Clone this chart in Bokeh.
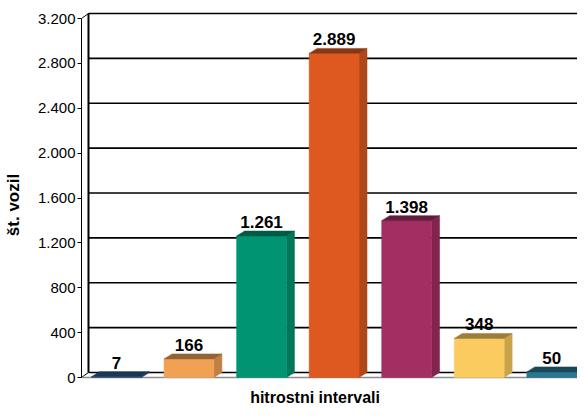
import numpy as np
from bokeh.plotting import figure
from bokeh.models import FixedTicker, Range1d, Label, ColumnDataSource
from bokeh.core.properties import value
from bokeh.embed import file_html
from bokeh.resources import INLINE

# ---- data ----
intervals = ["1", "2", "3", "4", "5", "6", "7"]          # speed intervals (no labels shown on chart)
counts = [7, 166, 1261, 2889, 1398, 348, 50]
count_labels = ["7", "166", "1.261", "2.889", "1.398", "348", "50"]
y_ticks = [0, 400, 800, 1200, 1600, 2000, 2400, 2800, 3200]
y_tick_labels = ["0", "400", "800", "1.200", "1.600", "2.000", "2.400", "2.800", "3.200"]
front_colors = ["#2E5A8A", "#F0A154", "#009472", "#DD5920", "#A32E62", "#FCCB5F", "#2A7590"]
y_title = "št. vozil"
x_title = "hitrostni intervali"

# ---- layout constants (pixels) ----
W, H = 577, 409
LEFT = 80
FRAME_W = W - LEFT
FRAME_H = H
Y0_PX = 377          # front zero line from frame top
YMAX_PX = 18         # front 3200 line from frame top
K = (Y0_PX - YMAX_PX) / 3200.0   # px per unit
SLOT = 72.7
FIRST_C = 35.0

x_start = -FIRST_C / SLOT
x_end = x_start + FRAME_W / SLOT
y_start = -(FRAME_H - Y0_PX) / K
y_end = y_ticks[-1] + YMAX_PX / K

bar_hw = 25.0 / SLOT
bar_dx = 8.0 / SLOT
dy = 5.0 / K
wall_dx = 7.0 / SLOT


def shade(hexcol, f):
    h = hexcol.lstrip("#")
    r, g, b = (int(h[i:i + 2], 16) for i in (0, 2, 4))
    return "#%02x%02x%02x" % (int(r * f), int(g * f), int(b * f))


p = figure(width=W, height=H, output_backend="svg", toolbar_location=None,
           x_range=Range1d(x_start, x_end), y_range=Range1d(y_start, y_end),
           x_axis_location=None, min_border_left=LEFT, min_border_right=0,
           min_border_top=0, min_border_bottom=0)
p.outline_line_color = None
p.grid.visible = False
p.background_fill_color = "white"

# ---- y axis ----
ax = p.yaxis[0]
ax.ticker = FixedTicker(ticks=y_ticks)
ax.major_label_overrides = {t: l for t, l in zip(y_ticks, y_tick_labels)}
ax.bounds = (y_ticks[0], y_ticks[-1])
ax.minor_tick_line_color = None
ax.major_tick_in = 0
ax.major_tick_out = 4
ax.major_label_standoff = 2
ax.axis_line_color = "black"
ax.major_tick_line_color = "black"
ax.major_label_text_font = "Liberation Sans"
ax.major_label_text_font_size = "15px"
ax.major_label_text_color = "black"
ax.axis_label = y_title
ax.axis_label_text_font = "Liberation Sans"
ax.axis_label_text_font_style = "bold"
ax.axis_label_text_font_size = "17px"
ax.axis_label_standoff = 12
ax.axis_label_text_color = "black"

# ---- back wall grid lines ----
gx0 = [x_start + wall_dx] * len(y_ticks)
gx1 = [x_end] * len(y_ticks)
gy = [t + dy for t in y_ticks]
p.segment(x0=gx0, y0=gy, x1=gx1, y1=gy, line_color="black", line_width=1.7)
# back wall vertical line
p.segment(x0=[x_start + wall_dx], y0=[dy], x1=[x_start + wall_dx], y1=[y_ticks[-1] + dy],
          line_color="black", line_width=2)
# wall diagonals
p.segment(x0=[x_start, x_start], y0=[0, y_ticks[-1]],
          x1=[x_start + wall_dx, x_start + wall_dx], y1=[dy, y_ticks[-1] + dy],
          line_color="black", line_width=1)
# floor front edge
p.segment(x0=[x_start], y0=[0], x1=[x_end], y1=[0], line_color="#8c8c8c", line_width=1.5)

# ---- 3D bars ----
xs = np.arange(len(counts), dtype=float)
left = xs - bar_hw
right = xs + bar_hw
vals = np.array(counts, dtype=float)

top_x, top_y, side_x, side_y = [], [], [], []
for l, r, v in zip(left, right, vals):
    top_x.append([l, r, r + bar_dx, l + bar_dx])
    top_y.append([v, v, v + dy, v + dy])
    side_x.append([r, r + bar_dx, r + bar_dx, r])
    side_y.append([0, dy, v + dy, v])

top_colors = [shade(c, 0.62) for c in front_colors]
side_colors = [shade(c, 0.8) for c in front_colors]

p.patches(xs=side_x, ys=side_y, fill_color=side_colors, line_color=side_colors, line_width=0.5)
p.quad(left=left, right=right, bottom=0, top=vals, fill_color=front_colors,
       line_color=front_colors, line_width=0.5)
p.patches(xs=top_x, ys=top_y, fill_color=top_colors, line_color=top_colors, line_width=0.5)

# ---- value labels ----
src = ColumnDataSource(dict(x=xs, y=vals + dy + 9.0 / K, t=count_labels))
p.text(x="x", y="y", text="t", source=src, text_align="center", text_baseline="alphabetic",
       text_font=value("Liberation Sans"), text_font_style="bold",
       text_font_size="17px", text_color="black")

# ---- x axis title ----
p.add_layout(Label(x=(317 - 118) / SLOT, y=(Y0_PX - 397) / K, text=x_title,
                   text_align="center", text_baseline="middle",
                   text_font="Liberation Sans", text_font_style="bold",
                   text_font_size="16px", text_color="black"))

open("out.html", "w").write(file_html(p, INLINE))
